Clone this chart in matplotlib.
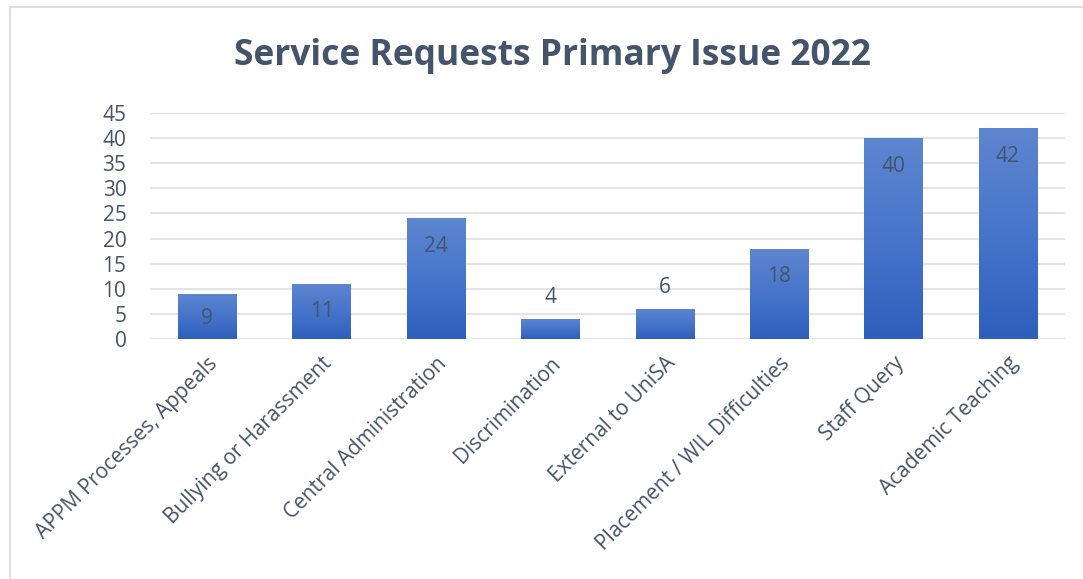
import numpy as np
import matplotlib
matplotlib.use("Agg")
import matplotlib.pyplot as plt
from matplotlib.colors import LinearSegmentedColormap
from matplotlib.patches import Rectangle

# Service request counts by primary issue
categories = ["APPM Processes, Appeals", "Bullying or Harassment",
              "Central Administration", "Discrimination", "External to UniSA",
              "Placement / WIL Difficulties", "Staff Query", "Academic Teaching"]
counts = [9, 11, 24, 4, 6, 18, 40, 42]
yticks = [0, 5, 10, 15, 20, 25, 30, 35, 40, 45]

TXT = "#44546A"
plt.rcParams['font.family'] = ['Open Sans', 'DejaVu Sans']

fig = plt.figure(figsize=(10.83, 5.79), dpi=100)
# light frame around the chart area
fig.patches.append(Rectangle((10 / 1083, -0.1), 1.2, 1 - 7 / 579 + 0.1,
                             transform=fig.transFigure, fill=False,
                             edgecolor="#DCE0E6", linewidth=1.5))

ax = fig.add_axes([150 / 1083, 1 - 339 / 579, 915 / 1083, 226 / 579])
x = np.arange(len(categories))
bars = ax.bar(x, counts, width=0.51, color="none", zorder=3)

# vertical gradient fill, lighter at the top
grad = LinearSegmentedColormap.from_list("g", ["#2D5FBC", "#4775CB", "#5E86D0"])
for b in bars:
    x0, y0 = b.get_x(), b.get_y()
    w, h = b.get_width(), b.get_height()
    im = ax.imshow(np.linspace(0, 1, 256).reshape(-1, 1), cmap=grad,
                   origin="lower", aspect="auto",
                   extent=[x0, x0 + w, y0, y0 + h], zorder=3)
    im.set_clip_path(b)

# value labels: inside the top of the bar, or above it for short bars
for xi, v in zip(x, counts):
    hpx = v * 226 / 45
    if hpx > 40:
        off = -min(28, hpx / 2 + 2) * 0.72
    else:
        off = 21 * 0.72
    ax.annotate(str(v), (xi, v), xytext=(0, off), textcoords="offset points",
                ha="center", va="center", fontsize=15, color=TXT, zorder=4)

ax.set_xlim(-0.5, len(categories) - 0.5)
ax.set_ylim(0, 45)
ax.set_yticks(yticks)
ax.yaxis.grid(True, color="#E1E4EA", linewidth=1.5, zorder=0)
ax.set_axisbelow(True)
for s in ax.spines.values():
    s.set_visible(False)
ax.tick_params(axis="both", length=0, labelsize=15, labelcolor=TXT)
ax.tick_params(axis="y", pad=17)
ax.set_xticks(x)
ax.set_xticklabels(categories, rotation=45, ha="right", rotation_mode="anchor")
ax.tick_params(axis="x", pad=10)

fig.text(552 / 1083, 1 - 56 / 579, "Service Requests Primary Issue 2022",
         ha="center", va="center", fontsize=25.5, fontweight="bold", color=TXT)

fig.savefig("out.png", dpi=100)
